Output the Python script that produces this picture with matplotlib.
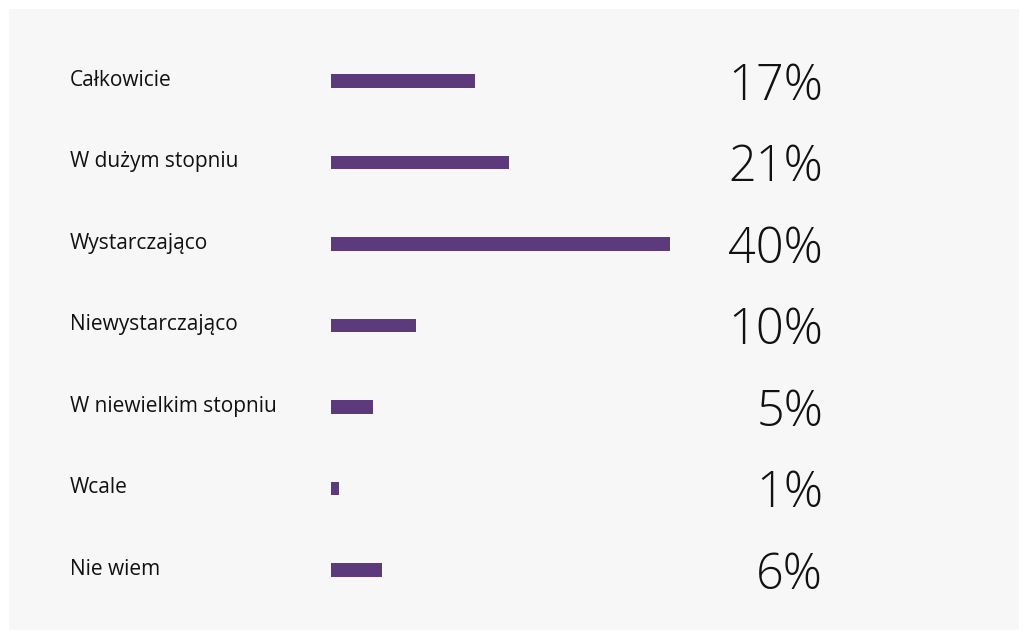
import matplotlib
matplotlib.use("Agg")
import matplotlib.pyplot as plt
import matplotlib.transforms as mtrans
from matplotlib.patches import Rectangle

# dane z wykresu
kategorie = ["Całkowicie", "W dużym stopniu", "Wystarczająco", "Niewystarczająco",
             "W niewielkim stopniu", "Wcale", "Nie wiem"]
procenty = [17, 21, 40, 10, 5, 1, 6]
etykiety = ["17%", "21%", "40%", "10%", "5%", "1%", "6%"]

kolor = "#5c3a7c"
tlo = "#f7f7f7"

W, H = 1026, 638
fig = plt.figure(figsize=(W / 100, H / 100), dpi=100)
fig.patch.set_facecolor("white")

# szare tło panelu
bg = fig.add_axes([0, 0, 1, 1], zorder=-1)
bg.axis("off")
bg.add_patch(Rectangle((9 / W, 8 / H), 1010 / W, 621 / H, transform=bg.transAxes,
                       facecolor=tlo, edgecolor="none"))

left, right = 331 / W, 670 / W
top_row, bot_row = 81, 570
step = (bot_row - top_row) / (len(kategorie) - 1)
ax_top = top_row - step / 2
ax_bot = bot_row + step / 2
ax = fig.add_axes([left, (H - ax_bot) / H, right - left, (ax_bot - ax_top) / H])
ax.set_facecolor("none")

y = list(range(len(kategorie)))
ax.barh(y, procenty, height=0.17, color=kolor)
ax.set_xlim(0, 40)
ax.set_ylim(len(kategorie) - 0.5, -0.5)
ax.axis("off")

tr_lab = mtrans.blended_transform_factory(fig.transFigure, ax.transData)
for i, k in enumerate(kategorie):
    ax.text(70 / W, i - 0.01, k, transform=tr_lab, ha="left", va="center",
            fontsize=15, family="Open Sans", color="#111111")
for i, e in enumerate(etykiety):
    ax.text(823 / W, i + 0.07, e, transform=tr_lab, ha="right", va="center",
            fontsize=35, family="Open Sans", fontweight="light", color="#111111")

fig.savefig("out.png", dpi=100, facecolor=fig.get_facecolor())
